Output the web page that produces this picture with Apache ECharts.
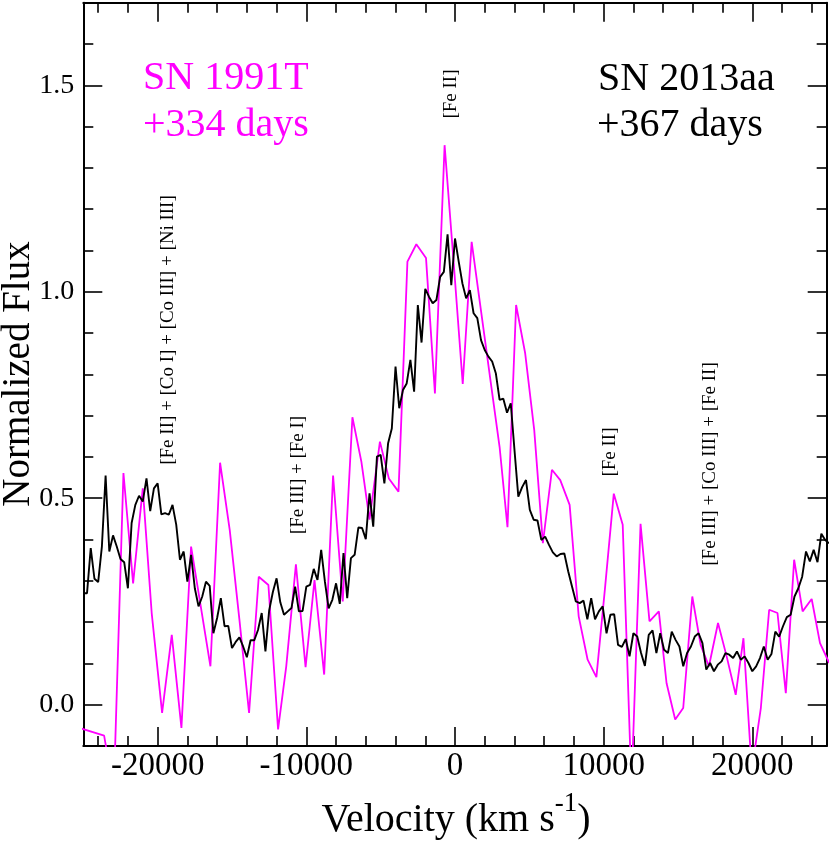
<!DOCTYPE html>
<html>
<head>
<meta charset="utf-8">
<script src="https://cdn.jsdelivr.net/npm/echarts@6/dist/echarts.min.js"></script>
<style>
html,body{margin:0;padding:0;background:#fff;}
#chart{width:830px;height:844px;}
</style>
</head>
<body>
<div id="chart"></div>
<script>
// ---- data ----
const blackVel = [
-25000,-24750,-24500,-24250,-24000,-23750,-23500,-23250,-23000,-22750,
-22500,-22250,-22000,-21750,-21500,-21250,-21000,-20750,-20500,-20250,
-20000,-19750,-19500,-19250,-19000,-18750,-18500,-18250,-18000,-17750,
-17500,-17250,-17000,-16750,-16500,-16250,-16000,-15750,-15500,-15250,
-15000,-14750,-14500,-14250,-14000,-13750,-13500,-13250,-13000,-12750,
-12500,-12250,-12000,-11750,-11500,-11250,-11000,-10750,-10500,-10250,
-10000,-9750,-9500,-9250,-9000,-8750,-8500,-8250,-8000,-7750,
-7500,-7250,-7000,-6750,-6500,-6250,-6000,-5750,-5500,-5250,
-5000,-4750,-4500,-4250,-4000,-3750,-3500,-3250,-3000,-2750,
-2500,-2250,-2000,-1750,-1500,-1250,-1000,-750,-500,-250,
0,250,500,750,1000,1250,1500,1750,2000,2250,
2500,2750,3000,3250,3500,3750,4000,4258,4516,4774,
5032,5290,5548,5806,6064,6322,6580,6838,7096,7354,
7612,7870,8128,8386,8644,8902,9160,9418,9676,9934,
10192,10450,10708,10966,11224,11482,11740,11998,12256,12514,
12772,13030,13288,13546,13804,14062,14320,14578,14836,15094,
15352,15610,15868,16126,16384,16642,16900,17158,17416,17674,
17932,18190,18448,18706,18964,19222,19480,19738,19996,20254,
20512,20770,21028,21286,21544,21802,22060,22318,22576,22834,
23092,23350,23608,23866,24124,24382,24640,24898,25156
];
const blackFlux = [
0.270,0.270,0.379,0.305,0.297,0.383,0.555,0.371,0.410,0.383,
0.353,0.345,0.282,0.440,0.484,0.506,0.492,0.548,0.469,0.524,
0.536,0.461,0.464,0.460,0.484,0.436,0.351,0.371,0.298,0.363,
0.282,0.238,0.262,0.298,0.288,0.173,0.210,0.258,0.190,0.191,
0.137,0.152,0.163,0.141,0.115,0.156,0.156,0.181,0.222,0.129,
0.228,0.273,0.306,0.248,0.218,0.226,0.234,0.286,0.226,0.227,
0.286,0.290,0.329,0.302,0.375,0.298,0.233,0.254,0.294,0.244,
0.367,0.258,0.355,0.363,0.429,0.428,0.401,0.512,0.431,0.601,
0.605,0.536,0.633,0.669,0.819,0.718,0.762,0.778,0.835,0.758,
0.968,0.877,1.007,0.988,0.972,0.980,1.036,1.048,1.139,1.016,
1.129,1.073,1.020,0.984,1.004,0.948,0.936,0.883,0.859,0.843,
0.831,0.802,0.738,0.741,0.707,0.730,0.617,0.504,0.527,0.544,
0.472,0.448,0.446,0.399,0.407,0.387,0.369,0.359,0.365,0.366,
0.323,0.286,0.250,0.246,0.252,0.207,0.258,0.207,0.226,0.238,
0.173,0.218,0.219,0.145,0.140,0.159,0.117,0.173,0.165,0.125,
0.094,0.169,0.180,0.125,0.173,0.133,0.125,0.177,0.157,0.141,
0.093,0.125,0.141,0.165,0.173,0.149,0.085,0.101,0.081,0.097,
0.105,0.125,0.121,0.113,0.129,0.109,0.117,0.101,0.081,0.093,
0.113,0.141,0.109,0.123,0.177,0.165,0.190,0.212,0.218,0.262,
0.282,0.310,0.371,0.347,0.375,0.345,0.414,0.399,0.391
];
const magVel = [
-25550,-23600,-22950,-22300,-21650,-21000,-20400,-19700,-19050,-18400,
-17750,-17100,-16450,-15800,-15150,-14500,-13850,-13200,-12550,-11900,
-11350,-10700,-10050,-9450,-8800,-8200,-7550,-6900,-6300,-5750,
-5050,-4450,-3800,-3200,-2600,-1950,-1350,-700,-80,520,
1120,1750,2390,3000,3530,4110,4720,5330,5910,6520,
7080,7710,8320,8920,9510,10110,10680,11280,11870,12480,
13080,13710,14230,14810,15350,15960,16520,17080,17690,18270,
18880,19400,19960,20570,21130,21690,22250,22810,23380,23990,
24550,25170
];
const magFlux = [
-0.053,-0.075,-0.21,0.561,0.294,0.524,0.222,-0.020,0.169,-0.056,
0.383,0.238,0.093,0.586,0.423,0.206,-0.020,0.310,0.290,-0.060,
0.093,0.340,0.091,0.302,0.073,0.555,0.250,0.696,0.589,0.448,
0.637,0.548,0.516,1.073,1.115,1.082,0.754,1.355,1.066,0.777,
1.121,0.954,0.784,0.624,0.430,0.968,0.851,0.665,0.391,0.569,
0.544,0.484,0.214,0.109,0.067,0.290,0.511,0.436,-0.20,0.438,
0.202,0.226,0.052,-0.036,-0.008,0.262,0.145,0.093,0.198,0.117,
0.024,0.161,-0.16,-0.008,0.230,0.222,0.028,0.351,0.226,0.256,
0.149,0.101
];
const xMajorTicks = [-20000,-10000,0,10000,20000];
const xMinorTicks = [-24000,-22000,-18000,-16000,-14000,-12000,-8000,-6000,-4000,-2000,
  2000,4000,6000,8000,12000,14000,16000,18000,22000,24000];
const yMajorTicks = [0,0.5,1.0,1.5];
const yMinorTicks = [-0.1,0.1,0.2,0.3,0.4,0.6,0.7,0.8,0.9,1.1,1.2,1.3,1.4,1.6,1.7];
const xRange = [-25000,25000];
const yRange = [-0.1,1.7];

// ---- chart ----
const FONT = '"Liberation Serif","Times New Roman",serif';
const chart = echarts.init(document.getElementById('chart'), null, {renderer:'canvas'});

function xAx(pos, ticks, len, withLine, withLabels){
  return {
    type:'value', min:xRange[0], max:xRange[1], position:pos,
    axisLine:{show:withLine, onZero:false, lineStyle:{color:'#000', width:2}},
    axisTick:{show:true, inside:true, length:len, customValues:ticks, lineStyle:{color:'#000', width:1.6}},
    axisLabel:{show:withLabels, customValues:ticks, formatter:(v)=>String(v),
      fontSize:33, fontFamily:FONT, color:'#000', margin:4},
    splitLine:{show:false}, minorTick:{show:false}
  };
}
function yAx(pos, ticks, len, withLine, withLabels){
  return {
    type:'value', min:yRange[0], max:yRange[1], position:pos,
    axisLine:{show:withLine, onZero:false, lineStyle:{color:'#000', width:2}},
    axisTick:{show:true, inside:true, length:len, customValues:ticks, lineStyle:{color:'#000', width:1.6}},
    axisLabel:{show:withLabels, customValues:ticks, formatter:(v)=>v.toFixed(1),
      fontSize:28, fontFamily:FONT, color:'#000', margin:9},
    splitLine:{show:false}, minorTick:{show:false}
  };
}

const annot = (text, x, y) => ({
  type:'text', x:x, y:y, rotation:Math.PI/2, z:10,
  style:{text:text, font:'19px ' + FONT, fill:'#000', align:'center', verticalAlign:'middle'}
});

const option = {
  animation:false,
  backgroundColor:'#fff',
  grid:{left:83.3, right:3.3, top:2.7, bottom:98, containLabel:false},
  xAxis:[
    xAx('bottom', xMajorTicks, 19, true, true),
    xAx('bottom', xMinorTicks, 10, false, false),
    xAx('top', xMajorTicks, 19, true, false),
    xAx('top', xMinorTicks, 10, false, false)
  ],
  yAxis:[
    yAx('left', yMajorTicks, 19, true, true),
    yAx('left', yMinorTicks, 10, false, false),
    yAx('right', yMajorTicks, 19, true, false),
    yAx('right', yMinorTicks, 10, false, false)
  ],
  series:[
    {
      name:'SN 1991T', type:'line', xAxisIndex:0, yAxisIndex:0,
      data: magVel.map((v,i)=>[v, magFlux[i]]),
      showSymbol:false, symbol:'none', clip:true,
      lineStyle:{color:'#ff00ff', width:1.8}, z:2
    },
    {
      name:'SN 2013aa', type:'line', xAxisIndex:0, yAxisIndex:0,
      data: blackVel.map((v,i)=>[v, blackFlux[i]]),
      showSymbol:false, symbol:'none', clip:true,
      lineStyle:{color:'#000', width:1.9}, z:3
    }
  ],
  graphic:[
    {type:'text', x:143, y:78, style:{text:'SN 1991T', font:'40px ' + FONT, fill:'#ff00ff', align:'left', verticalAlign:'middle'}},
    {type:'text', x:143, y:125, style:{text:'+334 days', font:'40px ' + FONT, fill:'#ff00ff', align:'left', verticalAlign:'middle'}},
    {type:'text', x:598, y:79, style:{text:'SN 2013aa', font:'40px ' + FONT, fill:'#000', align:'left', verticalAlign:'middle'}},
    {type:'text', x:597, y:125, style:{text:'+367 days', font:'40px ' + FONT, fill:'#000', align:'left', verticalAlign:'middle'}},
    annot('[Fe II] + [Co I] + [Co III] + [Ni III]', 168, 330),
    annot('[Fe III] + [Fe I]', 298, 475),
    annot('[Fe II]', 451, 94),
    annot('[Fe II]', 610, 452),
    annot('[Fe III] + [Co III] + [Fe II]', 710, 464),
    {type:'text', x:19, y:374, rotation:Math.PI/2,
      style:{text:'Normalized Flux', font:'39px ' + FONT, fill:'#000', align:'center', verticalAlign:'middle'}},
    {type:'text', x:456, y:820,
      style:{text:'{a|Velocity (km s}{b|-1}{a|)}', align:'center', verticalAlign:'middle', fill:'#000',
        rich:{
          a:{fontSize:40, fontFamily:FONT, color:'#000', lineHeight:60},
          b:{fontSize:27, fontFamily:FONT, color:'#000', verticalAlign:'top', lineHeight:27}
        }}}
  ]
};
chart.setOption(option);
</script>
</body>
</html>
